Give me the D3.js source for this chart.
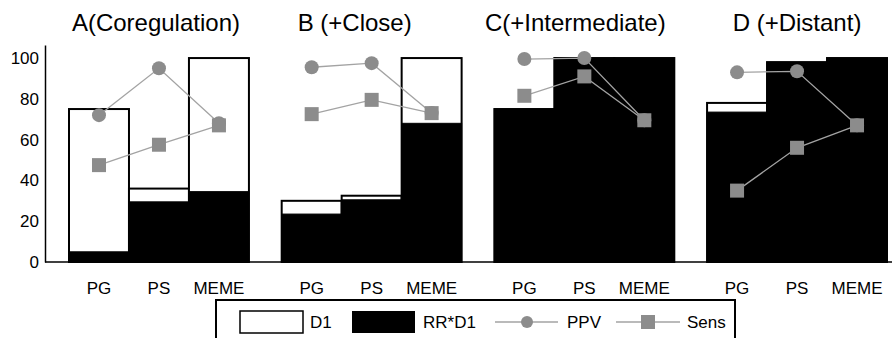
<!DOCTYPE html>
<html>
<head>
<meta charset="utf-8">
<script src="https://cdn.jsdelivr.net/npm/d3@7"></script>
<style>
  body { margin: 0; background: #fff; }
  svg { display: block; font-family: "Liberation Sans", Arial, sans-serif; }
</style>
</head>
<body>
<svg id="chart"></svg>
<script>
// values (percent)
const groups = ['A', 'B', 'C', 'D'];
const groupTitles = ['A(Coregulation)', 'B (+Close)', 'C(+Intermediate)', 'D (+Distant)'];
const methods = ['PG', 'PS', 'MEME'];
const d1Values   = [[75, 36, 100], [30, 32.5, 100], [75, 100, 100], [78, 98, 100]];
const rrD1Values = [[5, 29.5, 34.5], [23.5, 30.5, 68], [75, 100, 100], [73.5, 98, 100]];
const ppvValues  = [[72, 95, 68], [95.5, 97.5, 73], [99.5, 100, 69.5], [93, 93.5, 67]];
const sensValues = [[47.5, 57.5, 67], [72.5, 79.5, 73], [81.5, 91, 69.5], [35, 56, 67]];
const yTicks = [0, 20, 40, 60, 80, 100];
const legendLabels = ['D1', 'RR*D1', 'PPV', 'Sens'];

const W = 892, H = 338;
const lineGrey = '#a3a3a3', markGrey = '#8c8c8c';
const titleDx = [-3, -17, -9, 0]; // titles are not quite centred in the original

const svg = d3.select('#chart').attr('width', W).attr('height', H);
svg.append('rect').attr('width', W).attr('height', H).attr('fill', '#fff');

// scales
const xGroup = d3.scaleBand().domain(groups).range([69, 887]).paddingInner(0.154).paddingOuter(0);
const xMethod = d3.scaleBand().domain(methods).range([0, xGroup.bandwidth()]).padding(0);
const y = d3.scaleLinear().domain([0, 106.4]).range([262, 45]);

// y axis
svg.append('g')
    .attr('transform', 'translate(45,0)')
    .call(d3.axisLeft(y).tickValues(yTicks).tickSize(0).tickSizeOuter(0).tickPadding(6))
    .call(g => g.select('.domain').attr('stroke', '#000').attr('stroke-width', 1.5))
    .call(g => g.selectAll('text').attr('font-size', 17).attr('fill', '#000').attr('font-family', null));

groups.forEach((grp, gi) => {
  const g = svg.append('g').attr('transform', `translate(${xGroup(grp)},0)`);
  const cx = m => xMethod(m) + xMethod.bandwidth() / 2;

  // D1 outline bars, RR*D1 filled on top
  g.selectAll('rect.d1')
    .data(methods.map((m, i) => ({m, v: d1Values[gi][i]})))
    .join('rect')
      .attr('class', 'd1')
      .attr('x', d => xMethod(d.m))
      .attr('y', d => y(d.v))
      .attr('width', xMethod.bandwidth())
      .attr('height', d => y(0) - y(d.v))
      .attr('fill', '#fff')
      .attr('stroke', '#000')
      .attr('stroke-width', 2);

  g.selectAll('rect.rr')
    .data(methods.map((m, i) => ({m, v: rrD1Values[gi][i]})))
    .join('rect')
      .attr('class', 'rr')
      .attr('x', d => xMethod(d.m))
      .attr('y', d => y(d.v))
      .attr('width', xMethod.bandwidth())
      .attr('height', d => y(0) - y(d.v))
      .attr('fill', '#000')
      .attr('stroke', '#000')
      .attr('stroke-width', 1);

  // PPV line + circles
  const ppv = methods.map((m, i) => ({m, v: ppvValues[gi][i]}));
  const line = d3.line().x(d => cx(d.m)).y(d => y(d.v));
  g.append('path').attr('d', line(ppv)).attr('fill', 'none').attr('stroke', lineGrey).attr('stroke-width', 1.3);
  g.selectAll('circle.ppv').data(ppv).join('circle')
      .attr('class', 'ppv')
      .attr('cx', d => cx(d.m)).attr('cy', d => y(d.v)).attr('r', 7)
      .attr('fill', markGrey);

  // Sens line + squares
  const sens = methods.map((m, i) => ({m, v: sensValues[gi][i]}));
  g.append('path').attr('d', line(sens)).attr('fill', 'none').attr('stroke', lineGrey).attr('stroke-width', 1.3);
  g.selectAll('rect.sens').data(sens).join('rect')
      .attr('class', 'sens')
      .attr('x', d => cx(d.m) - 7).attr('y', d => y(d.v) - 7)
      .attr('width', 14).attr('height', 14)
      .attr('fill', markGrey);

  // category labels
  g.append('g')
      .attr('transform', `translate(0,${y(0)})`)
      .call(d3.axisBottom(xMethod).tickSize(0).tickPadding(20))
      .call(a => a.select('.domain').remove())
      .call(a => a.selectAll('text').attr('font-size', 17).attr('fill', '#000').attr('font-family', null));

  // panel title
  g.append('text')
      .attr('x', xGroup.bandwidth() / 2 + titleDx[gi])
      .attr('y', 31)
      .attr('text-anchor', 'middle')
      .attr('font-size', 24)
      .text(groupTitles[gi]);
});

// baseline across all panels
svg.append('line')
    .attr('x1', 45).attr('x2', W).attr('y1', y(0)).attr('y2', y(0))
    .attr('stroke', '#000').attr('stroke-width', 1.5);

// legend
const lg = svg.append('g');
lg.append('rect').attr('x', 216).attr('y', 300).attr('width', 519).attr('height', 50)
    .attr('fill', '#fff').attr('stroke', '#000').attr('stroke-width', 2);
lg.append('rect').attr('x', 240).attr('y', 311).attr('width', 63).attr('height', 22)
    .attr('fill', '#fff').attr('stroke', '#000').attr('stroke-width', 1.5);
lg.append('rect').attr('x', 352).attr('y', 311).attr('width', 63).attr('height', 22)
    .attr('fill', '#000');
lg.append('line').attr('x1', 495).attr('x2', 558).attr('y1', 322).attr('y2', 322)
    .attr('stroke', lineGrey).attr('stroke-width', 1.3);
lg.append('circle').attr('cx', 527).attr('cy', 322).attr('r', 6).attr('fill', markGrey);
lg.append('line').attr('x1', 616).attr('x2', 680).attr('y1', 322).attr('y2', 322)
    .attr('stroke', lineGrey).attr('stroke-width', 1.3);
lg.append('rect').attr('x', 641).attr('y', 315).attr('width', 14).attr('height', 14).attr('fill', markGrey);

const legendX = [310, 423, 567, 687];
lg.selectAll('text').data(legendLabels).join('text')
    .attr('x', (d, i) => legendX[i])
    .attr('y', 328)
    .attr('font-size', 17)
    .text(d => d);
</script>
</body>
</html>
